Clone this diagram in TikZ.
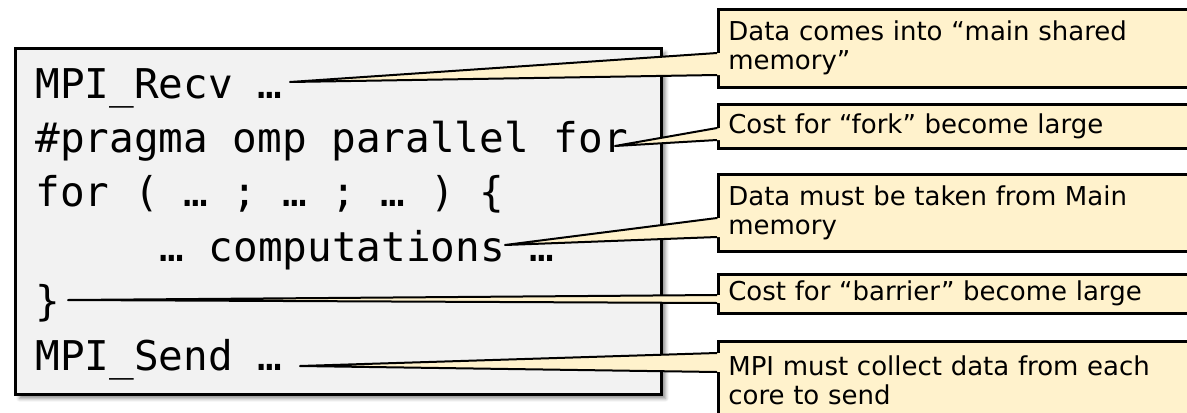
\documentclass[tikz,border=0pt]{standalone}
\usepackage{fontspec}
\newfontfamily\codefont{DejaVu Sans Mono}
\newfontfamily\notefont{DejaVu Sans}
\usetikzlibrary{positioning,calc,shadows.blur}
\definecolor{codebg}{RGB}{242,242,242}
\definecolor{notebg}{RGB}{255,242,204}
\tikzset{
  codebox/.style={draw, line width=1.5pt, fill=codebg, anchor=north west, minimum width=323pt, minimum height=173pt,
    blur shadow={shadow xshift=2pt, shadow yshift=-2pt, shadow blur steps=6, shadow opacity=45}},
  code/.style={anchor=base west, inner sep=0pt, font=\codefont\fontsize{20.5pt}{24pt}\selectfont},
  note/.style={draw, line width=1.3pt, fill=notebg, anchor=north west, text width=230pt, inner xsep=5pt, align=left,
    font=\notefont\fontsize{13pt}{14.5pt}\selectfont},
  tail/.style={line width=1pt, line join=round}
}

\begin{document}
\begin{tikzpicture}[x=0.5pt, y=-0.5pt]
  \useasboundingbox (0,0) rectangle (1187,412);

  % code listing
  \node[codebox] (listing) at (14,47) {};
  \node[code] (recv) at (35,98) {MPI\_Recv …};
  \node[code] (pragma) at (35,152.4) {\#pragma omp parallel for};
  \node[code] (loop) at (35,206.8) {for ( … ; … ; … ) \{};
  \node[code] (comp) at (159,261.2) {… computations …};
  \node[code] (close) at (35,315.6) {\}};
  \node[code] (send) at (35,370) {MPI\_Send …};

  % where the remarks point to
  \coordinate (recvtip) at (290,82);
  \coordinate (forktip) at (615,146);
  \coordinate (comptip) at (505,245);
  \coordinate (closetip) at (68,300);
  \coordinate (sendtip) at (300,366);

  % remarks
  \node[note, minimum height=39pt] (recvnote) at (717,8) {Data comes into “main shared\\memory”};
  \node[note, minimum height=22pt] (forknote) at (717,103) {Cost for “fork” become large};
  \node[note, minimum height=38.5pt] (compnote) at (717,173) {Data must be taken from Main\\memory};
  \node[note, minimum height=19.5pt] (closenote) at (717,273) {Cost for “barrier” become large};
  \node[note, minimum height=39pt] (sendnote) at (717,340) {MPI must collect data from each\\core to send};

  % callout tails
  \fill[notebg] ($(recvnote.north west)+(3,45)$) -- (recvtip) -- ($(recvnote.north west)+(3,67)$) -- cycle;
  \draw[tail] ($(recvnote.north west)+(0,45)$) -- (recvtip) -- ($(recvnote.north west)+(0,67)$);
  \fill[notebg] ($(forknote.north west)+(3,25)$) -- (forktip) -- ($(forknote.north west)+(3,37)$) -- cycle;
  \draw[tail] ($(forknote.north west)+(0,25)$) -- (forktip) -- ($(forknote.north west)+(0,37)$);
  \fill[notebg] ($(compnote.north west)+(3,45)$) -- (comptip) -- ($(compnote.north west)+(3,64)$) -- cycle;
  \draw[tail] ($(compnote.north west)+(0,45)$) -- (comptip) -- ($(compnote.north west)+(0,64)$);
  \fill[notebg] ($(closenote.north west)+(3,22)$) -- (closetip) -- ($(closenote.north west)+(3,30)$) -- cycle;
  \draw[tail] ($(closenote.north west)+(0,22)$) -- (closetip) -- ($(closenote.north west)+(0,30)$);
  \fill[notebg] ($(sendnote.north west)+(3,13)$) -- (sendtip) -- ($(sendnote.north west)+(3,32)$) -- cycle;
  \draw[tail] ($(sendnote.north west)+(0,13)$) -- (sendtip) -- ($(sendnote.north west)+(0,32)$);
\end{tikzpicture}
\end{document}
